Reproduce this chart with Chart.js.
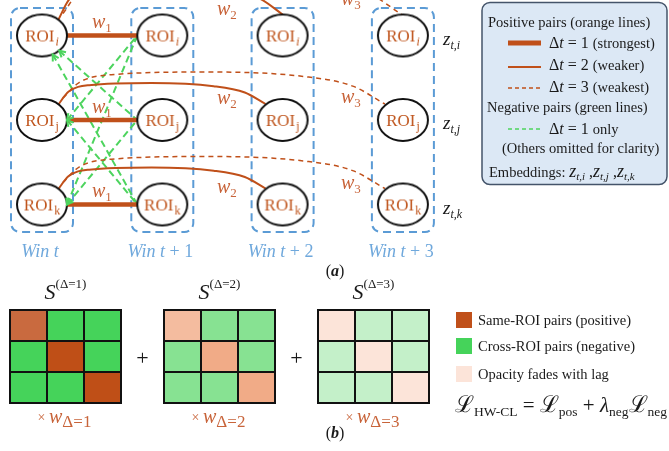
<!DOCTYPE html>
<html>
<head>
<meta charset="utf-8">
<script src="https://cdn.jsdelivr.net/npm/chart.js@4.4.1/dist/chart.umd.min.js"></script>
<style>
  html, body { margin: 0; padding: 0; background: #fff; }
  canvas { display: block; }
</style>
</head>
<body>
<canvas id="chart" width="669" height="451"></canvas>
<script>
// ---- data ----
const windows = ['Win t', 'Win t + 1', 'Win t + 2', 'Win t + 3']
const rois = ['i', 'j', 'k']
const lags = [1, 2, 3]
const lagLabels = ['1', '2', '3']
// negative pairs, lag 1 only: [roi at t, roi at t+1]
const negPairs = [[0, 1], [0, 2], [1, 0], [1, 2], [2, 0], [2, 1]]
// S matrix pattern: 1 = same ROI (positive), 0 = cross ROI (negative)
const sMatrix = [[1, 0, 0], [0, 1, 0], [0, 0, 1]]

// ---- style ----
const SERIF = '"Liberation Serif", "DejaVu Serif", serif'
const ORANGE = '#C0501A'
const ORANGE_TXT = '#C8643A'
const GREEN = '#4DD45E'
const BLUE = '#5B9BD5'
const posFill = [['#C96A3F', '#BF4F17', '#BF4F17'], ['#F4BC9F', '#F1AB87', '#F1AB87'], ['#FCE4D9', '#FCE4D9', '#FCE4D9']]
const negFill = ['#45D35A', '#87E292', '#C4F0C9']

// layout (pixels)
const COL0 = 42, COL_PX = 120.3
const ROW0 = 35.5, ROW_PX = 84.5
const RX = 25, RY = 21
const MAT_X0 = 28.5, CELL_W = 37, MAT_Y0 = 325.5, CELL_H = 31, MAT_GAP = 154 / 37

// arc shapes for lag 2 and 3 (pixel offsets from node centres)
const arcStyle = {
  2: { start: [16, -15], end: [-17, -16], endTop: [0, -21], lift: 37, liftTop: 50 },
  3: { start: [21, -22], end: [-18, -16], endTop: [0, -20], lift: 48, liftTop: 60 }
}
const arcF = [0, 0.05, 0.15, 0.45, 0.75, 0.9, 1]
const arcH = [0, 0.6, 0.9, 1, 0.85, 0.55, 0]

function arcPoints(lag, r) {
  const s = arcStyle[lag]
  const end = r === 0 ? s.endTop : s.end
  const lift = r === 0 ? s.liftTop : s.lift
  const sx = s.start[0] / COL_PX, sy = r + s.start[1] / ROW_PX
  const ex = lag + end[0] / COL_PX, ey = r + end[1] / ROW_PX
  const py = r - lift / ROW_PX
  return arcF.map((f, n) => {
    const by = sy + f * (ey - sy)
    return { x: sx + f * (ex - sx), y: by + arcH[n] * (py - by) }
  })
}

function negPoints(a, b) {
  const tx = 1 - RX / COL_PX
  let sx = RX / COL_PX, sy = a
  if (a === 0) {
    const dx = tx * COL_PX, dy = (b - a) * ROW_PX
    const k = 1 / Math.hypot(dx / RX, dy / RY)
    sx = dx * k / COL_PX
    sy = a + dy * k / ROW_PX
  }
  return [{ x: sx, y: sy }, { x: tx, y: b }]
}

// ---- images used as point styles ----
function nodeImage(roi) {
  const c = document.createElement('canvas')
  c.width = 56; c.height = 48
  const g = c.getContext('2d')
  g.beginPath()
  g.ellipse(28, 24, RX, RY, 0, 0, Math.PI * 2)
  g.fillStyle = '#fff'
  g.fill()
  g.lineWidth = 2
  g.strokeStyle = '#111'
  g.stroke()
  g.fillStyle = '#C0561E'
  g.font = '17px ' + SERIF
  const w1 = g.measureText('ROI').width
  const subFont = (roi === 'i' ? 'italic ' : '') + '12px ' + SERIF
  g.font = subFont
  const w2 = g.measureText(roi).width
  const x0 = 28 - (w1 + w2 + 1) / 2
  g.font = '17px ' + SERIF
  g.fillText('ROI', x0, 30)
  g.font = subFont
  g.fillText(roi, x0 + w1 + 1, 33.5)
  return c
}
const nodeImgs = rois.map(nodeImage)

const cellCache = {}
function cellImage(color) {
  if (cellCache[color]) return cellCache[color]
  const c = document.createElement('canvas')
  c.width = CELL_W + 2; c.height = CELL_H + 2
  const g = c.getContext('2d')
  g.fillStyle = color
  g.fillRect(1, 1, CELL_W, CELL_H)
  g.strokeStyle = '#111'
  g.lineWidth = 2
  g.strokeRect(1, 1, CELL_W, CELL_H)
  cellCache[color] = c
  return c
}

// ---- datasets ----
const nodePoints = []
windows.forEach((w, wi) => rois.forEach((r, ri) => nodePoints.push({ x: wi, y: ri, roi: ri })))

const cellPoints = []
lags.forEach((lag, m) => sMatrix.forEach((row, r) => row.forEach((v, c) => {
  cellPoints.push({ x: m * MAT_GAP + c, y: r, color: v === 1 ? posFill[m][r] : negFill[m] })
})))

const datasets = []
datasets.push({
  data: nodePoints,
  pointStyle: c => (c.raw ? nodeImgs[c.raw.roi] : 'circle'),
  pointRadius: 4,
  showLine: false
})
datasets.push({
  data: cellPoints,
  xAxisID: 'xMat',
  yAxisID: 'yMat',
  pointStyle: c => (c.raw ? cellImage(c.raw.color) : 'rect'),
  pointRadius: 4,
  showLine: false
})
rois.forEach((r, ri) => {
  datasets.push({
    data: [{ x: RX / COL_PX, y: ri }, { x: 1 - RX / COL_PX, y: ri }],
    showLine: true, borderColor: ORANGE, borderWidth: 4.5, pointRadius: 0
  })
})
rois.forEach((r, ri) => {
  datasets.push({
    data: arcPoints(2, ri),
    showLine: true, borderColor: ORANGE, borderWidth: 2, pointRadius: 0,
    cubicInterpolationMode: 'monotone', tension: 0.4
  })
  datasets.push({
    data: arcPoints(3, ri),
    showLine: true, borderColor: ORANGE, borderWidth: 1.5, borderDash: [5, 4], pointRadius: 0,
    cubicInterpolationMode: 'monotone', tension: 0.4
  })
})
negPairs.forEach(([a, b]) => {
  datasets.push({
    data: negPoints(a, b),
    showLine: true, borderColor: GREEN, borderWidth: 2, borderDash: [7, 4], pointRadius: 0,
    arrowStart: true
  })
})

// ---- text helper ----
function rich(g, x, y, parts, align) {
  let w = 0
  parts.forEach(p => { g.font = p[1]; w += g.measureText(p[0]).width })
  let cx = align === 'center' ? x - w / 2 : x
  g.textAlign = 'left'
  g.textBaseline = 'alphabetic'
  parts.forEach(p => {
    g.font = p[1]
    g.fillStyle = p[3] || '#1a1a1a'
    g.fillText(p[0], cx, y + (p[2] || 0))
    cx += g.measureText(p[0]).width
  })
}
const f = (size, style) => (style ? style + ' ' : '') + size + 'px ' + SERIF

const diagram = {
  id: 'diagram',
  beforeDatasetsDraw(chart) {
    const g = chart.ctx
    const xs = chart.scales.x, ys = chart.scales.y
    g.save()
    g.strokeStyle = BLUE
    g.lineWidth = 2
    g.setLineDash([8, 5])
    windows.forEach((w, wi) => {
      const cx = xs.getPixelForValue(wi)
      const top = ys.getPixelForValue(0) - 27.5
      const bottom = ys.getPixelForValue(rois.length - 1) + 27.5
      g.beginPath()
      g.roundRect(cx - 31, top, 62, bottom - top, 9)
      g.stroke()
    })
    g.restore()
  },
  afterDatasetsDraw(chart) {
    const g = chart.ctx
    const xs = chart.scales.x, ys = chart.scales.y
    g.save()

    // arrowheads on negative pairs
    chart.data.datasets.forEach((ds, i) => {
      if (!ds.arrowStart) return
      const pts = chart.getDatasetMeta(i).data
      const p0 = pts[0], p1 = pts[1]
      const ang = Math.atan2(p0.y - p1.y, p0.x - p1.x)
      g.strokeStyle = GREEN
      g.lineWidth = 2
      g.setLineDash([])
      g.beginPath()
      g.moveTo(p0.x - 7 * Math.cos(ang - 0.5), p0.y - 7 * Math.sin(ang - 0.5))
      g.lineTo(p0.x, p0.y)
      g.lineTo(p0.x - 7 * Math.cos(ang + 0.5), p0.y - 7 * Math.sin(ang + 0.5))
      g.stroke()
    })

    // weight labels
    const wLabel = (x, y, n) => rich(g, x, y, [['w', f(20, 'italic'), 0, ORANGE_TXT], [n, f(13), 4, ORANGE_TXT]])
    const w2dy = [-20.5, -16, -11.5], w3dy = [-30.5, -17, -15.5]
    rois.forEach((r, ri) => {
      const ry = ys.getPixelForValue(ri)
      wLabel(92, ry - 7.5, lagLabels[0])
      wLabel(217, ry + w2dy[ri], lagLabels[1])
      wLabel(341, ry + w3dy[ri], lagLabels[2])
      rich(g, 443, ry + 9, [['z', f(19, 'italic')], ['t,' + r, f(12, 'italic'), 4]])
    })

    // window labels
    windows.forEach((w, wi) => {
      const parts = w.split(' + ')
      const items = [[parts[0], f(18, 'italic'), 0, '#6FA8DC']]
      if (parts[1]) items.push([' + ' + parts[1], f(18), 0, '#6FA8DC'])
      rich(g, xs.getPixelForValue(wi) - 2, 257, items, 'center')
    })
    rich(g, 335, 276, [['(', f(16)], ['a', f(16, 'italic bold')], [')', f(16)]], 'center')
    rich(g, 335, 438, [['(', f(16)], ['b', f(16, 'italic bold')], [')', f(16)]], 'center')

    // legend box
    g.fillStyle = '#DCE8F5'
    g.strokeStyle = '#44546A'
    g.lineWidth = 1.5
    g.beginPath()
    g.roundRect(482, 2.5, 185, 182, 8)
    g.fill()
    g.stroke()
    const T = f(14.5)
    rich(g, 488, 27, [['Positive pairs (orange lines)', T]])
    const legLine = (y, color, width, dash) => {
      g.strokeStyle = color
      g.lineWidth = width
      g.setLineDash(dash)
      g.beginPath()
      g.moveTo(508, y)
      g.lineTo(541, y)
      g.stroke()
      g.setLineDash([])
    }
    legLine(43, ORANGE, 5, [])
    legLine(67, ORANGE, 2, [])
    legLine(88, ORANGE, 1.5, [4, 3])
    legLine(129, GREEN, 1.5, [4, 3])
    const dt = (n, rest, y) => rich(g, 549, y, [['Δ', f(16)], ['t', f(16, 'italic')], [' = ' + n + ' ', f(16)], [rest, T]])
    dt(1, '(strongest)', 48)
    dt(2, '(weaker)', 70)
    dt(3, '(weakest)', 92)
    rich(g, 487, 112, [['Negative pairs (green lines)', T]])
    dt(1, 'only', 134)
    rich(g, 502, 153, [['(Others omitted for clarity)', T]])
    rich(g, 489, 177, [
      ['Embeddings: ', T],
      ['z', f(18, 'italic')], ['t,i', f(11, 'italic'), 3], [' ,', f(16)],
      ['z', f(18, 'italic')], ['t,j', f(11, 'italic'), 3], [' ,', f(16)],
      ['z', f(18, 'italic')], ['t,k', f(11, 'italic'), 3]
    ])

    // matrix captions
    const mx = chart.scales.xMat
    lags.forEach((lag, m) => {
      const cx = mx.getPixelForValue(m * MAT_GAP + 1)
      rich(g, cx, 299, [['S', f(22, 'italic')], ['(Δ=' + lag + ')', f(13), -11]], 'center')
      rich(g, cx - 1, 423, [['× ', f(14), -1, ORANGE_TXT], ['w', f(20, 'italic'), 0, ORANGE_TXT], ['Δ=' + lag, f(17), 4, ORANGE_TXT]], 'center')
      if (m > 0) {
        const px = (mx.getPixelForValue((m - 1) * MAT_GAP + 2) + mx.getPixelForValue(m * MAT_GAP)) / 2
        rich(g, px, 365, [['+', f(22)]], 'center')
      }
    })

    // matrix legend
    const sw = [['#C0501A', 'Same-ROI pairs (positive)', 312], ['#45D35A', 'Cross-ROI pairs (negative)', 338], ['#FCE4D9', 'Opacity fades with lag', 366]]
    sw.forEach(([c, t, y]) => {
      g.fillStyle = c
      g.fillRect(456, y, 16, 16)
      rich(g, 478, y + 12.5, [[t, T]])
    })
    rich(g, 455, 412, [
      ['ℒ', f(23)], ['HW-CL', f(13.5), 4],
      [' = ', f(21)],
      ['ℒ', f(23)], ['pos', f(13.5), 4],
      [' + ', f(21)],
      ['λ', f(21, 'italic')], ['neg', f(13.5), 4],
      ['ℒ', f(23)], ['neg', f(13.5), 4]
    ])

    g.restore()
  }
}

new Chart(document.getElementById('chart'), {
  type: 'scatter',
  data: { datasets: datasets },
  options: {
    responsive: false,
    animation: false,
    events: [],
    layout: { padding: 0, autoPadding: false },
    plugins: { legend: { display: false }, tooltip: { enabled: false } },
    scales: {
      x: { type: 'linear', display: false, min: -COL0 / COL_PX, max: (669 - COL0) / COL_PX },
      y: { type: 'linear', display: false, reverse: true, min: -ROW0 / ROW_PX, max: (451 - ROW0) / ROW_PX },
      xMat: { type: 'linear', display: false, min: -MAT_X0 / CELL_W, max: (669 - MAT_X0) / CELL_W },
      yMat: { type: 'linear', display: false, reverse: true, min: -MAT_Y0 / CELL_H, max: (451 - MAT_Y0) / CELL_H }
    }
  },
  plugins: [diagram]
})
</script>
</body>
</html>
